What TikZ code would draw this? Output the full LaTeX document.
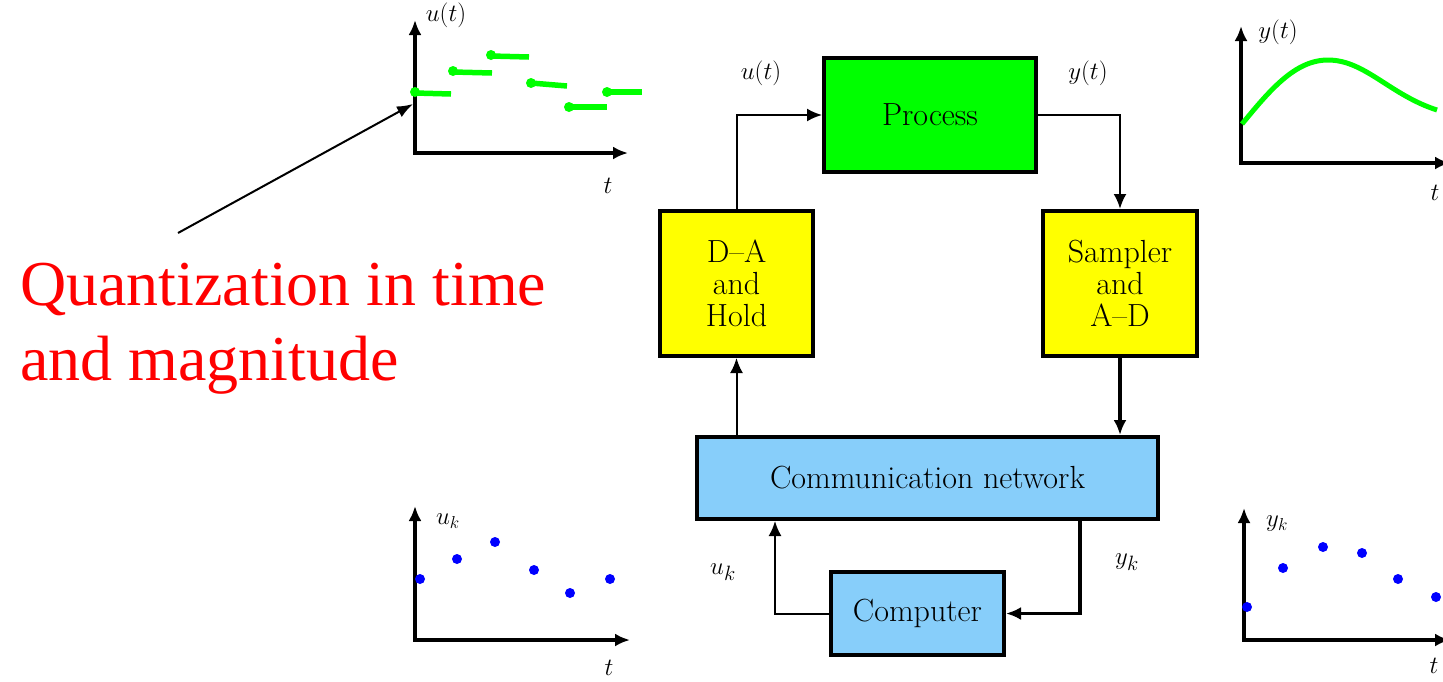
\documentclass[tikz,border=0pt]{standalone}
\usepackage{fontspec}
\newfontfamily\redfont{Liberation Serif}
\usetikzlibrary{arrows.meta,calc}
\definecolor{pgreen}{HTML}{00FF00}
\definecolor{pyellow}{HTML}{FFFF00}
\definecolor{pblue}{HTML}{87CEFA}
\definecolor{dotblue}{HTML}{0000FF}
\tikzset{
  blk/.style={draw=black, line width=4pt, inner sep=0pt, align=center,
    font=\fontsize{32}{32}\selectfont},
  conn/.style={line width=2pt, -{Latex[length=15pt,width=13pt]}},
  connthick/.style={line width=3.5pt, -{Latex[length=15pt,width=13pt]}},
  axis/.style={line width=4pt, -{Latex[length=15pt,width=13pt]}},
  sig/.style={font=\fontsize{30}{32}\selectfont},
  plab/.style={font=\fontsize{27}{28}\selectfont},
  gseg/.style={draw=pgreen, line width=5.5pt}
}
\begin{document}
\begin{tikzpicture}[x=1pt,y=-1pt]
\useasboundingbox (0,0) rectangle (1443,681);

% blocks
\node[blk, fill=pgreen, minimum width=212pt, minimum height=114pt] (proc) at (930,115) {Process};
\node[blk, fill=pyellow, minimum width=153pt, minimum height=145pt] (da) at (736.5,283.5) {D--A\\and\\Hold};
\node[blk, fill=pyellow, minimum width=154pt, minimum height=145pt] (samp) at (1120,283.5) {Sampler\\and\\A--D};
\node[blk, fill=pblue, minimum width=461pt, minimum height=82pt] (comm) at (927.5,478) {Communication network};
\node[blk, fill=pblue, minimum width=173pt, minimum height=83pt] (comp) at (917.5,613.5) {Computer};

% connectors
\coordinate (ykx) at (1080,0);
\coordinate (ukx) at (775,0);
\draw[conn] (da.north) |- (proc.west);
\draw[conn, line width=2.5pt] (proc.east) -| (samp.north);
\draw[connthick] (samp.south) -- (samp.south |- comm.north);
\draw[conn] (comm.north -| da.south) -- (da.south);
\draw[connthick] (comm.south -| ykx) |- (comp.east);
\draw[conn] (comp.west) -| (comm.south -| ukx);

% signal labels
\node[sig] (lut) at (761,73) {$u(t)$};
\node[sig] (lyt) at (1088,73) {$y(t)$};
\node[sig] (luk) at (723,572) {$u_k$};
\node[sig] (lyk) at (1127,562) {$y_k$};

% red text and arrow
\node[anchor=base west, inner sep=0pt, text=red, font=\redfont\fontsize{64}{75}\selectfont] (q1) at (20,305) {Quantization in time};
\node[anchor=base west, inner sep=0pt, text=red, font=\redfont\fontsize{64}{75}\selectfont] (q2) at (20,380) {and magnitude};
\coordinate (qa) at (178,233);
\coordinate (u0) at (413,104);
\draw[line width=2pt, -{Latex[length=16pt,width=12pt]}] (qa) -- (u0);

% u(t) plot
\coordinate (uo) at (415,153);
\coordinate (uy) at (415,20);
\coordinate (ux) at (628,153);
\draw[axis] (uo) -- (uy);
\draw[axis] ($(uo)+(-2,0)$) -- (ux);
\node[plab] (lu) at (446,15) {$u(t)$};
\node[plab] (lt1) at (608,186) {$t$};
\draw[gseg] (415,93) -- (451,94);
\draw[gseg] (453,72) -- (492,73);
\draw[gseg] (491,56) -- (529,57);
\draw[gseg] (531,83) -- (567,86);
\draw[gseg] (569,107) -- (607,107);
\draw[gseg] (607,92) -- (642,92);
\foreach \p in {(415,92),(453,71),(491,55),(531,83),(569,107),(607,92)}
  \fill[pgreen] \p circle (5pt);

% y(t) plot
\coordinate (yo) at (1241,163);
\coordinate (yy) at (1241,26);
\coordinate (yx) at (1450,163);
\draw[axis] (yo) -- (yy);
\draw[axis] ($(yo)+(-2,0)$) -- (yx);
\node[plab] (ly) at (1278,32) {$y(t)$};
\node[plab] (lt2) at (1435,193) {$t$};
\draw[draw=pgreen, line width=5pt] (1242,124) .. controls (1270,90) and (1295,60) .. (1328,60)
  .. controls (1365,60) and (1390,95) .. (1437,110);

% u_k plot
\coordinate (uko) at (415,640);
\coordinate (uky) at (415,506);
\coordinate (ukxx) at (630,640);
\draw[axis] (uko) -- (uky);
\draw[axis] ($(uko)+(-2,0)$) -- (ukxx);
\node[plab] (luk2) at (448,521) {$u_k$};
\node[plab] (lt3) at (609,668) {$t$};
\foreach \p in {(420,579),(457,559),(495,542),(534,570),(570,593),(610,579)}
  \fill[dotblue] \p circle (5pt);

% y_k plot
\coordinate (yko) at (1244,640);
\coordinate (yky) at (1244,508);
\coordinate (ykxx) at (1450,640);
\draw[axis] (yko) -- (yky);
\draw[axis] ($(yko)+(-2,0)$) -- (ykxx);
\node[plab] (lyk2) at (1277,524) {$y_k$};
\node[plab] (lt4) at (1434,666) {$t$};
\foreach \p in {(1247,607),(1283,568),(1323,547),(1362,553),(1398,579),(1436,597)}
  \fill[dotblue] \p circle (5pt);
\end{tikzpicture}
\end{document}
